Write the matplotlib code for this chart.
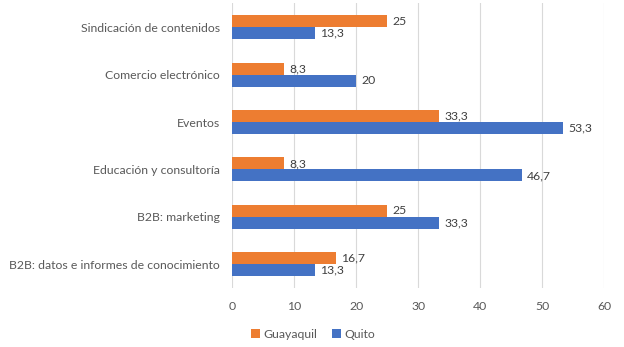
import matplotlib.pyplot as plt
import numpy as np

categories = ['Sindicación de contenidos', 'Comercio electrónico', 'Eventos',
              'Educación y consultoría', 'B2B: marketing',
              'B2B: datos e informes de conocimiento']
guayaquil = [25, 8.3, 33.3, 8.3, 25, 16.7]
quito = [13.3, 20, 53.3, 46.7, 33.3, 13.3]

plt.rcParams['font.family'] = ['Lato', 'DejaVu Sans']
fs = 8.8

fig = plt.figure(figsize=(6.24, 3.47), dpi=100)
ax = fig.add_axes([0.372, 0.17, 0.596, 0.82])

y = np.arange(len(categories))
h = 0.253
b1 = ax.barh(y - h / 2, guayaquil, height=h, color='#ED7D31', label='Guayaquil', zorder=3)
b2 = ax.barh(y + h / 2, quito, height=h, color='#4472C4', label='Quito', zorder=3)

fmt = lambda v: f'{v:g}'.replace('.', ',')
ax.bar_label(b1, labels=[fmt(v) for v in guayaquil], padding=4, fontsize=fs, color='#404040')
ax.bar_label(b2, labels=[fmt(v) for v in quito], padding=4, fontsize=fs, color='#404040')

ax.set_ylim(len(categories) - 0.5, -0.5)
ax.set_xlim(0, 60)
ax.set_xticks(range(0, 61, 10))
ax.set_yticks(y)
ax.set_yticklabels(categories)
ax.tick_params(axis='both', length=0, labelsize=fs, colors='#595959')
ax.tick_params(axis='y', pad=9)
ax.tick_params(axis='x', pad=9)
ax.grid(axis='x', color='#D9D9D9', linewidth=0.8, zorder=0)
for s in ax.spines.values():
    s.set_visible(False)

ax.legend(loc='upper center', bbox_to_anchor=(0.218, -0.105), ncol=2,
          frameon=False, fontsize=fs, handlelength=0.7, handleheight=0.7,
          handletextpad=0.3, columnspacing=1.2, labelcolor='#595959')

fig.savefig('out.png', dpi=100)
